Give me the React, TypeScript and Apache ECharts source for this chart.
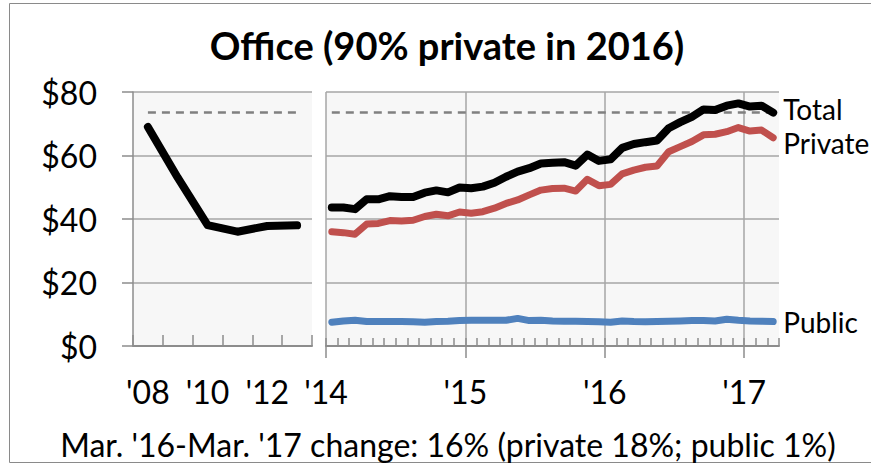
import React, { useEffect, useRef } from 'react';
import * as echarts from 'echarts';

// Annual panel (2008-2013)
const annualYears = ['2008', '2009', '2010', '2011', '2012', '2013'];
const annualTotal = [69.0, 53.0, 38.1, 36.0, 37.8, 38.0];

// Monthly panel (Jan 2014 - Mar 2017)
const months = [
  'Jan 2014', 'Feb 2014', 'Mar 2014', 'Apr 2014', 'May 2014', 'Jun 2014', 'Jul 2014', 'Aug 2014', 'Sep 2014', 'Oct 2014', 'Nov 2014', 'Dec 2014',
  'Jan 2015', 'Feb 2015', 'Mar 2015', 'Apr 2015', 'May 2015', 'Jun 2015', 'Jul 2015', 'Aug 2015', 'Sep 2015', 'Oct 2015', 'Nov 2015', 'Dec 2015',
  'Jan 2016', 'Feb 2016', 'Mar 2016', 'Apr 2016', 'May 2016', 'Jun 2016', 'Jul 2016', 'Aug 2016', 'Sep 2016', 'Oct 2016', 'Nov 2016', 'Dec 2016',
  'Jan 2017', 'Feb 2017', 'Mar 2017',
];
const monthlyTotal = [
  43.6, 43.6, 43.1, 46.2, 46.2, 47.2, 46.9, 46.9, 48.3, 49.0, 48.4, 49.9,
  49.7, 50.2, 51.4, 53.3, 54.9, 56.0, 57.5, 57.7, 57.9, 56.8, 60.3, 58.3,
  58.8, 62.4, 63.6, 64.2, 64.7, 68.6, 70.5, 72.2, 74.5, 74.3, 75.7, 76.4,
  75.4, 75.7, 73.5,
];
const monthlyPrivate = [
  36.0, 35.7, 35.2, 38.4, 38.6, 39.5, 39.4, 39.6, 40.8, 41.5, 41.0, 42.2,
  41.8, 42.3, 43.4, 44.9, 46.0, 47.6, 49.1, 49.6, 49.7, 48.8, 52.5, 50.5,
  50.9, 54.2, 55.4, 56.3, 56.7, 61.2, 62.8, 64.4, 66.5, 66.7, 67.5, 68.8,
  67.7, 68.0, 65.6,
];
const monthlyPublic = [
  7.5, 7.9, 8.1, 7.7, 7.7, 7.7, 7.7, 7.6, 7.5, 7.7, 7.8, 8.0,
  8.1, 8.1, 8.1, 8.1, 8.7, 8.0, 8.1, 7.9, 7.8, 7.8, 7.7, 7.6,
  7.5, 7.9, 7.7, 7.6, 7.7, 7.8, 7.9, 8.0, 8.0, 7.9, 8.4, 8.1,
  7.9, 7.8, 7.7,
];

const peakLevel = 73.6;
const yearTicks = [0, 12, 24, 36];
const yearLabels = ["'14", "'15", "'16", "'17"];
const yTicks = [0, 20, 40, 60, 80];

const FONT = 'Lato';
const GRID_COLOR = '#a6a6a6';
const AXIS_COLOR = '#8c8c8c';

export default function App() {
  const ref = useRef<HTMLDivElement>(null);

  useEffect(() => {
    if (!ref.current) return;
    const chart = echarts.init(ref.current, undefined, { renderer: 'svg' });

    const dashed = {
      symbol: ['none', 'none'],
      silent: true,
      z: 1,
      label: { show: false },
      lineStyle: { type: [8, 6], color: '#808080', width: 2.5 },
    };

    const option: any = {
      animation: false,
      textStyle: { fontFamily: FONT },
      title: {
        text: '{b|Office}{n| (90% private in 2016)}',
        left: 442,
        top: 21,
        textAlign: 'center',
        textStyle: {
          rich: {
            b: { fontFamily: FONT, fontWeight: 'bold', fontSize: 38, color: '#000' },
            n: { fontFamily: FONT, fontSize: 38, color: '#000' },
          },
        },
      },
      grid: [
        { left: 133, top: 92, width: 179, height: 254, show: true, backgroundColor: '#f7f7f7', borderWidth: 0 },
        { left: 326, top: 92, width: 453, height: 254, show: true, backgroundColor: '#f7f7f7', borderWidth: 0 },
      ],
      xAxis: [
        {
          type: 'category',
          gridIndex: 0,
          position: 'bottom',
          data: annualYears,
          boundaryGap: true,
          axisLine: { show: true, lineStyle: { color: AXIS_COLOR, width: 2 } },
          axisTick: { show: true, inside: true, length: 11, interval: 0, lineStyle: { color: AXIS_COLOR, width: 1.5 } },
          axisLabel: {
            interval: 1,
            margin: 29,
            fontSize: 32,
            color: '#000',
            fontFamily: FONT,
            formatter: (v: string) => "'" + v.slice(2),
          },
          splitLine: { show: false },
        },
        {
          type: 'category',
          gridIndex: 1,
          position: 'bottom',
          data: months,
          boundaryGap: true,
          axisLine: { show: true, lineStyle: { color: AXIS_COLOR, width: 2 } },
          axisTick: { show: true, inside: true, length: 8, interval: 0, lineStyle: { color: AXIS_COLOR, width: 1.5 } },
          axisLabel: { show: false },
          splitLine: { show: false },
        },
        {
          type: 'value',
          gridIndex: 1,
          position: 'bottom',
          min: 0,
          max: months.length,
          interval: 12,
          axisLine: { show: false },
          axisTick: {
            show: true,
            inside: false,
            length: 12,
            customValues: yearTicks,
            lineStyle: { color: AXIS_COLOR, width: 1.5 },
          },
          axisLabel: {
            customValues: yearTicks,
            margin: 29,
            fontSize: 32,
            color: '#000',
            fontFamily: FONT,
            formatter: (v: number) => {
              const i = yearTicks.indexOf(v);
              return i >= 0 ? yearLabels[i] : '';
            },
          },
          splitLine: { show: true, lineStyle: { color: GRID_COLOR, width: 1.5 } },
        },
      ],
      yAxis: [
        {
          type: 'value',
          gridIndex: 0,
          min: yTicks[0],
          max: yTicks[yTicks.length - 1],
          interval: 20,
          axisLine: { show: true, lineStyle: { color: AXIS_COLOR, width: 1.5 } },
          axisTick: { show: true, inside: false, length: 11, lineStyle: { color: AXIS_COLOR, width: 1.5 } },
          axisLabel: {
            margin: 36,
            fontSize: 32,
            color: '#000',
            fontFamily: FONT,
            formatter: (v: number) => '$' + v,
          },
          splitLine: { show: true, lineStyle: { color: GRID_COLOR, width: 1.5 } },
        },
        {
          type: 'value',
          gridIndex: 1,
          min: yTicks[0],
          max: yTicks[yTicks.length - 1],
          interval: 20,
          axisLine: { show: false },
          axisTick: { show: false },
          axisLabel: { show: false },
          splitLine: { show: true, lineStyle: { color: GRID_COLOR, width: 1.5 } },
        },
      ],
      series: [
        {
          name: 'Total (annual)',
          type: 'line',
          xAxisIndex: 0,
          yAxisIndex: 0,
          data: annualTotal,
          showSymbol: false,
          symbol: 'none',
          lineStyle: { color: '#000', width: 8, cap: 'round', join: 'round' },
          markLine: { ...dashed, data: [[{ coord: [0, peakLevel] }, { coord: [annualYears.length - 1, peakLevel] }]] },
        },
        {
          name: 'Public',
          type: 'line',
          xAxisIndex: 1,
          yAxisIndex: 1,
          data: monthlyPublic,
          showSymbol: false,
          symbol: 'none',
          lineStyle: { color: '#4f81bd', width: 7, cap: 'round', join: 'round' },
          endLabel: { show: true, formatter: 'Public', fontSize: 28, color: '#000', fontFamily: FONT, distance: 10, offset: [0, 0] },
          markLine: { ...dashed, data: [[{ coord: [0, peakLevel] }, { coord: [months.length - 1, peakLevel] }]] },
        },
        {
          name: 'Private',
          type: 'line',
          xAxisIndex: 1,
          yAxisIndex: 1,
          data: monthlyPrivate,
          showSymbol: false,
          symbol: 'none',
          lineStyle: { color: '#c0504d', width: 7, cap: 'round', join: 'round' },
          endLabel: { show: true, formatter: 'Private', fontSize: 28, color: '#000', fontFamily: FONT, distance: 10, offset: [0, 5] },
        },
        {
          name: 'Total',
          type: 'line',
          xAxisIndex: 1,
          yAxisIndex: 1,
          data: monthlyTotal,
          showSymbol: false,
          symbol: 'none',
          lineStyle: { color: '#000', width: 8, cap: 'round', join: 'round' },
          endLabel: { show: true, formatter: 'Total', fontSize: 28, color: '#000', fontFamily: FONT, distance: 10, offset: [0, -4] },
        },
      ],
      graphic: [
        {
          type: 'rect',
          silent: true,
          shape: { x: 9.5, y: 3.5, width: 900, height: 459 },
          style: { fill: 'none', stroke: '#8a8a8a', lineWidth: 1 },
          z: -1,
        },
        {
          type: 'text',
          x: 448,
          y: 444,
          style: {
            text: "Mar. '16-Mar. '17 change: 16% (private 18%; public 1%)",
            fontFamily: FONT,
            fontSize: 32,
            fill: '#000',
            textAlign: 'center',
            textVerticalAlign: 'middle',
          },
        },
      ],
    };

    chart.setOption(option);
    return () => chart.dispose();
  }, []);

  return (
    <div
      ref={ref}
      style={{ position: 'fixed', left: 0, top: 0, width: 871, height: 465, background: '#fff' }}
    />
  );
}
